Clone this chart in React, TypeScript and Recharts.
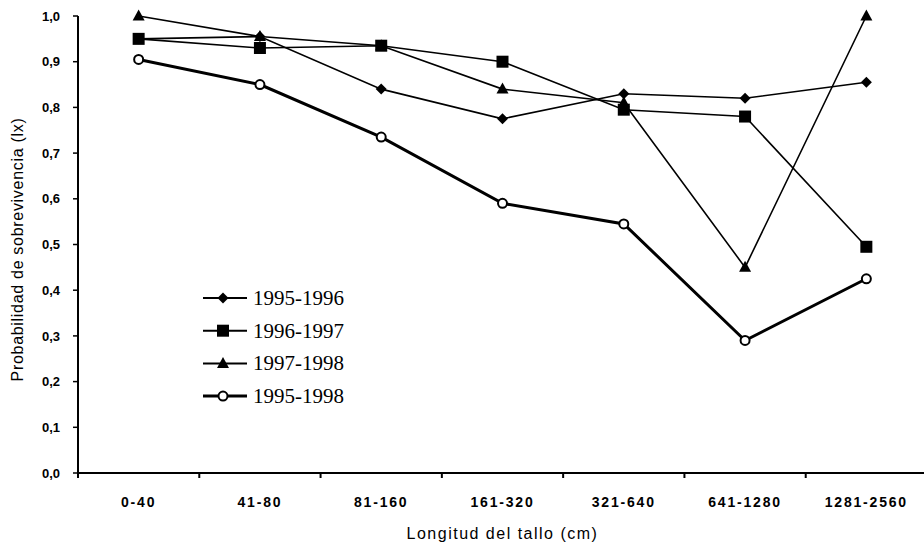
import { LineChart, Line, XAxis, YAxis, Legend, Label } from 'recharts'

// Stem length classes (cm)
const SIZE_CLASSES = ['0-40', '41-80', '81-160', '161-320', '321-640', '641-1280', '1281-2560']

// Survival probability (lx) per interval
const LX_1995_1996 = [0.95, 0.955, 0.84, 0.775, 0.83, 0.82, 0.855]
const LX_1996_1997 = [0.95, 0.93, 0.935, 0.9, 0.795, 0.78, 0.495]
const LX_1997_1998 = [1.0, 0.955, 0.935, 0.84, 0.81, 0.45, 1.0]
const LX_1995_1998 = [0.905, 0.85, 0.735, 0.59, 0.545, 0.29, 0.425]

const Y_TICKS = [0, 0.1, 0.2, 0.3, 0.4, 0.5, 0.6, 0.7, 0.8, 0.9, 1.0]

const SANS = '"Liberation Sans", Arial, Helvetica, sans-serif'
const SERIF = '"Liberation Serif", "Times New Roman", serif'

type Shape = 'diamond' | 'square' | 'triangle' | 'circle'

const SERIES: { key: string; name: string; values: number[]; shape: Shape; width: number }[] = [
  { key: 'lx9596', name: '1995-1996', values: LX_1995_1996, shape: 'diamond', width: 1.6 },
  { key: 'lx9697', name: '1996-1997', values: LX_1996_1997, shape: 'square', width: 1.6 },
  { key: 'lx9798', name: '1997-1998', values: LX_1997_1998, shape: 'triangle', width: 1.6 },
  { key: 'lx9598', name: '1995-1998', values: LX_1995_1998, shape: 'circle', width: 3 },
]

// draw order: squares sit on top of the triangles/diamonds where they overlap
const DRAW_ORDER = ['lx9596', 'lx9798', 'lx9697', 'lx9598']

const data = SIZE_CLASSES.map((size, i) => {
  const row: Record<string, string | number> = { size }
  SERIES.forEach((s) => {
    row[s.key] = s.values[i]
  })
  return row
})

function Marker({ cx, cy, shape }: { cx: number; cy: number; shape: Shape }) {
  if (cx == null || cy == null) return null
  if (shape === 'diamond') {
    return <polygon points={`${cx},${cy - 5.5} ${cx + 5.5},${cy} ${cx},${cy + 5.5} ${cx - 5.5},${cy}`} fill="#000" />
  }
  if (shape === 'square') {
    return <rect x={cx - 6} y={cy - 6} width={12} height={12} fill="#000" />
  }
  if (shape === 'triangle') {
    return <polygon points={`${cx},${cy - 6.5} ${cx + 6},${cy + 4.5} ${cx - 6},${cy + 4.5}`} fill="#000" />
  }
  return <circle cx={cx} cy={cy} r={4.5} fill="#fff" stroke="#000" strokeWidth={2} />
}

// Category label plus the tick marks on the class boundaries (left edge of each band,
// and the right edge after the last class)
function ClassTick(props: any) {
  const { x, y, payload, index } = props
  const half = payload?.offset ?? 0
  const axisY = y - 24
  return (
    <g>
      <line x1={x - half} x2={x - half} y1={axisY} y2={axisY + 5} stroke="#000" strokeWidth={2} />
      {index === SIZE_CLASSES.length - 1 && (
        <line x1={x + half} x2={x + half} y1={axisY} y2={axisY + 5} stroke="#000" strokeWidth={2} />
      )}
      <text
        x={x}
        y={y + 10}
        textAnchor="middle"
        fontSize={14}
        fontWeight={700}
        fill="#000"
        fontFamily={SANS}
        letterSpacing={1.8}
      >
        {payload.value}
      </text>
    </g>
  )
}

function SeriesLegend() {
  return (
    <svg width={160} height={132} style={{ display: 'block' }}>
      {SERIES.map((s, i) => {
        const y = 16 + i * 32.7
        return (
          <g key={s.key}>
            <line x1={3} x2={47} y1={y} y2={y} stroke="#000" strokeWidth={s.width === 3 ? 3 : 2} />
            <Marker cx={23} cy={y} shape={s.shape} />
            <text x={53} y={y + 7} fontFamily={SERIF} fontSize={21} fill="#000">
              {s.name}
            </text>
          </g>
        )
      })}
    </svg>
  )
}

export default function App() {
  return (
    <div style={{ position: 'absolute', left: 0, top: 0, width: 924, height: 555, overflow: 'hidden', background: '#fff' }}>
      <LineChart width={927} height={555} data={data} margin={{ top: 16, right: 0, left: 0, bottom: 0 }}>
        <XAxis
          dataKey="size"
          scale="band"
          interval={0}
          height={82}
          tickLine={false}
          tickSize={0}
          tickMargin={24}
          axisLine={{ stroke: '#000', strokeWidth: 2 }}
          tick={<ClassTick />}
        >
          <Label
            value="Longitud del tallo (cm)"
            position="insideBottom"
            offset={16}
            style={{ fontSize: 16, fill: '#000', fontFamily: SANS, letterSpacing: 1.5 }}
          />
        </XAxis>
        <YAxis
          domain={[0, 1]}
          ticks={Y_TICKS}
          width={78}
          tickSize={5}
          tickMargin={13}
          tickFormatter={(v: number) => v.toFixed(1).replace('.', ',')}
          axisLine={{ stroke: '#000', strokeWidth: 2 }}
          tickLine={{ stroke: '#000', strokeWidth: 1.5 }}
          tick={{ fontSize: 13, fontWeight: 700, fill: '#000', fontFamily: SANS }}
        >
          <Label
            content={(props: any) => {
              const vb = props.viewBox || { x: 0, y: 16, height: 457 }
              const cx = vb.x + 17
              const cy = vb.y + vb.height / 2 + 5
              return (
                <text
                  x={cx}
                  y={cy}
                  transform={`rotate(-90, ${cx}, ${cy})`}
                  textAnchor="middle"
                  dominantBaseline="central"
                  fontFamily={SANS}
                  fontSize={16}
                  letterSpacing={0.7}
                  fill="#000"
                >
                  Probabilidad de sobrevivencia (lx)
                </text>
              )
            }}
          />
        </YAxis>
        <Legend
          layout="vertical"
          align="center"
          verticalAlign="middle"
          content={() => <SeriesLegend />}
          wrapperStyle={{ position: 'absolute', left: 200, top: 282, width: 160, height: 132 }}
        />
        {DRAW_ORDER.map((key) => {
          const s = SERIES.find((it) => it.key === key)!
          return (
            <Line
              key={s.key}
              dataKey={s.key}
              name={s.name}
              type="linear"
              stroke="#000"
              strokeWidth={s.width}
              dot={(p: any) => <Marker key={`${s.key}-${p.index}`} cx={p.cx} cy={p.cy} shape={s.shape} />}
              activeDot={false}
              isAnimationActive={false}
            />
          )
        })}
      </LineChart>
    </div>
  )
}
